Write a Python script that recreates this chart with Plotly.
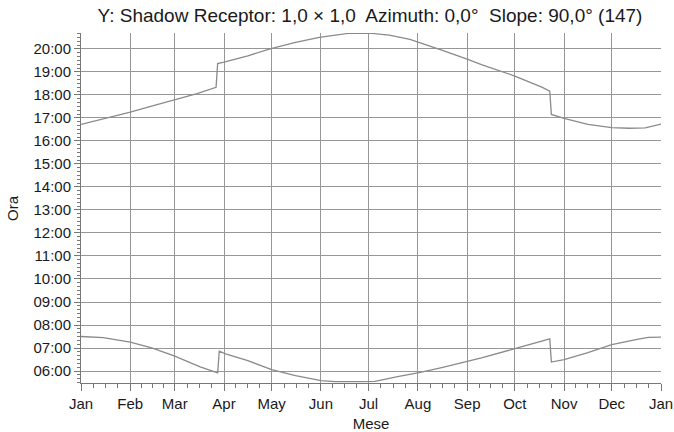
import plotly.graph_objects as go

# day of year -> time of day (decimal hours)
sunset_day = [0, 14, 31, 45, 59, 73, 85, 86, 90, 105, 119, 135, 150, 160, 168, 183,
              194, 207, 212, 227, 243, 252, 273, 290, 295, 296, 304, 319, 334, 345, 355, 365]
sunset_hr = [16.72, 16.95, 17.25, 17.52, 17.78, 18.06, 18.33, 19.36, 19.42, 19.70, 20.0,
             20.28, 20.50, 20.60, 20.67, 20.67, 20.60, 20.41, 20.30, 19.95, 19.55, 19.32,
             18.82, 18.34, 18.16, 17.15, 16.98, 16.72, 16.58, 16.55, 16.57, 16.73]

sunrise_day = [0, 14, 31, 45, 59, 68, 75, 86, 87, 91, 105, 120, 135, 151, 160, 175, 185,
               200, 212, 227, 243, 252, 273, 290, 295, 296, 304, 319, 334, 350, 357, 365]
sunrise_hr = [7.50, 7.45, 7.26, 7.00, 6.65, 6.40, 6.18, 5.92, 6.86, 6.75, 6.45, 6.06, 5.80,
              5.58, 5.54, 5.54, 5.55, 5.77, 5.92, 6.15, 6.40, 6.57, 6.97, 7.30, 7.40, 6.39,
              6.50, 6.80, 7.15, 7.38, 7.46, 7.47]

month_start = [0, 31, 59, 90, 120, 151, 181, 212, 243, 273, 304, 334, 365]
month_names = ["Jan", "Feb", "Mar", "Apr", "May", "Jun", "Jul", "Aug", "Sep", "Oct",
               "Nov", "Dec", "Jan"]
hour_ticks = list(range(6, 21))

minor_x = []
for a, b in zip(month_start[:-1], month_start[1:]):
    minor_x += [a + (b - a) * k / 4 for k in (1, 2, 3)]

line_col = "#8a8a8a"
grid_col = "#979797"
font = "Liberation Sans, Arial, sans-serif"

W, H = 674, 432
L, R, T, B = 81, 13, 33, 49

fig = go.Figure()
for xs, ys in [(sunset_day, sunset_hr), (sunrise_day, sunrise_hr)]:
    fig.add_trace(go.Scatter(x=xs, y=ys, mode="lines",
                             line=dict(color=line_col, width=1.3),
                             showlegend=False, hoverinfo="skip"))

fig.update_layout(
    width=W, height=H,
    margin=dict(l=L, r=R, t=T, b=B, autoexpand=False),
    paper_bgcolor="white", plot_bgcolor="white",
    font=dict(family=font, size=15, color="#1a1a1a"),
    title=dict(text="Y: Shadow Receptor: 1,0 × 1,0  Azimuth: 0,0°  Slope: 90,0° (147)",
               x=370 / W, xanchor="center", y=1 - 15 / H, yanchor="middle",
               font=dict(size=19, family=font, color="#1a1a1a")),
)
fig.add_annotation(text="Ora", textangle=-90, showarrow=False,
                   xref="paper", yref="paper", x=(12 - L) / (W - L - R), y=0.5,
                   xanchor="center", yanchor="middle", font=dict(size=15))
fig.update_xaxes(
    range=[0, 365], tickmode="array", tickvals=month_start, ticktext=month_names,
    showgrid=True, gridcolor=grid_col, gridwidth=1.2,
    ticks="outside", ticklen=7, tickcolor="#777", tickwidth=1,
    showline=True, linecolor="#777", linewidth=1,
    zeroline=False, automargin=False,
    minor=dict(tickmode="array", tickvals=minor_x, ticks="outside", ticklen=4,
               tickcolor="#777", showgrid=False),
    title=dict(text="Mese", font=dict(size=15)),
    tickfont=dict(size=15),
)
fig.update_yaxes(
    range=[5.48, 20.69], tickmode="array", tickvals=hour_ticks,
    ticktext=[f"{h:02d}:00" for h in hour_ticks],
    showgrid=True, gridcolor=grid_col, gridwidth=1.2,
    ticks="outside", ticklen=6, tickcolor="#777", tickwidth=1,
    showline=True, linecolor="#777", linewidth=1,
    zeroline=False, automargin=False,
    minor=dict(dtick=1 / 6, tick0=0, ticks="outside", ticklen=3,
               tickcolor="#777", showgrid=False),
    tickfont=dict(size=15),
)

# drop the browser's default body margin so the figure sits at the page corner
fig.write_html("out.html", config={"displayModeBar": False},
               post_script="document.body.style.margin='0';")
